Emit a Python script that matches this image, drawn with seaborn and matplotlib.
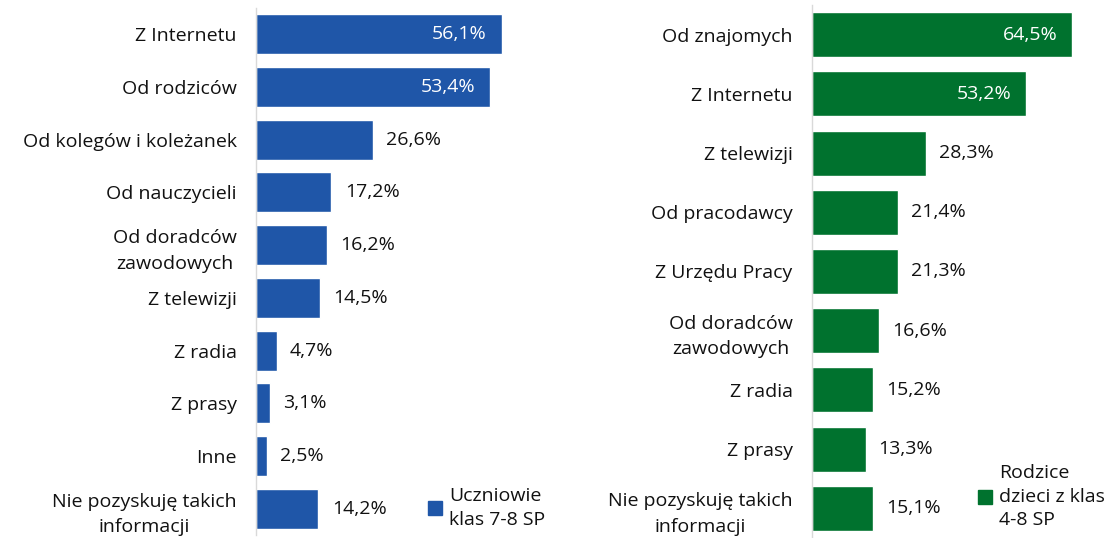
import matplotlib
matplotlib.use("Agg")
import matplotlib.pyplot as plt
import seaborn as sns
import pandas as pd
from matplotlib.patches import Patch

# -----------------------------
# DATA
# -----------------------------
left_cats = ["Z Internetu", "Od rodziców", "Od kolegów i koleżanek", "Od nauczycieli",
             "Od doradców\nzawodowych", "Z telewizji", "Z radia", "Z prasy", "Inne",
             "Nie pozyskuję takich\ninformacji"]
left_vals = [56.1, 53.4, 26.6, 17.2, 16.2, 14.5, 4.7, 3.1, 2.5, 14.2]
left_name = "Uczniowie\nklas 7-8 SP"

right_cats = ["Od znajomych", "Z Internetu", "Z telewizji", "Od pracodawcy", "Z Urzędu Pracy",
              "Od doradców\nzawodowych", "Z radia", "Z prasy", "Nie pozyskuję takich\ninformacji"]
right_vals = [64.5, 53.2, 28.3, 21.4, 21.3, 16.6, 15.2, 13.3, 15.1]
right_name = "Rodzice\ndzieci z klas\n4-8 SP"

blue = "#1F56A8"
green = "#00722E"
FS = 14

sns.set_theme(style="white")
plt.rcParams['font.family'] = ['Open Sans', 'DejaVu Sans']

fig = plt.figure(figsize=(11.12, 5.38), dpi=100)
W, H = 1112, 538
ax1 = fig.add_axes([256 / W, 1 - 535 / H, 300 / W, 527 / H])
ax2 = fig.add_axes([812 / W, 1 - 538 / H, 288 / W, 533 / H])


def draw(ax, cats, vals, color, xmax, name, leg_xy):
    df = pd.DataFrame({"cat": cats, "val": vals})
    sns.barplot(data=df, x="val", y="cat", color=color, width=0.76, ax=ax, saturation=1)
    ax.set_xlim(0, xmax)
    ax.set_ylim(len(cats) - 0.5, -0.5)
    ax.set_xlabel("")
    ax.set_ylabel("")
    ax.set_xticks([])
    for s in ["top", "right", "bottom"]:
        ax.spines[s].set_visible(False)
    ax.spines["left"].set_color("#d9d9d9")
    ax.spines["left"].set_linewidth(1)
    ax.tick_params(axis="y", length=0, pad=14, labelsize=FS, labelcolor="#111111")
    for lbl in ax.get_yticklabels():
        lbl.set_multialignment("center")
        lbl.set_linespacing(1.55)
    for i, v in enumerate(vals):
        txt = f"{v:.1f}%".replace(".", ",")
        if v > 40:
            ax.text(v - xmax * 0.05, i, txt, ha="right", va="center", color="white", fontsize=FS)
        else:
            ax.text(v + xmax * 0.045, i, txt, ha="left", va="center", color="#111111", fontsize=FS)
    leg = ax.legend(handles=[Patch(color=color, label=name)], loc="upper left",
                    bbox_to_anchor=leg_xy, bbox_transform=fig.transFigure, frameon=False,
                    fontsize=FS, handlelength=0.7, handleheight=0.7, handletextpad=0.4,
                    borderaxespad=0, borderpad=0)
    for t in leg.get_texts():
        t.set_linespacing(1.4)
        t.set_color("#111111")


draw(ax1, left_cats, left_vals, blue, 300 / 4.385, left_name, (428 / W, 1 - 487 / H))
draw(ax2, right_cats, right_vals, green, 288 / 4.03, right_name, (978 / W, 1 - 464 / H))

fig.savefig("out.png", dpi=100)
